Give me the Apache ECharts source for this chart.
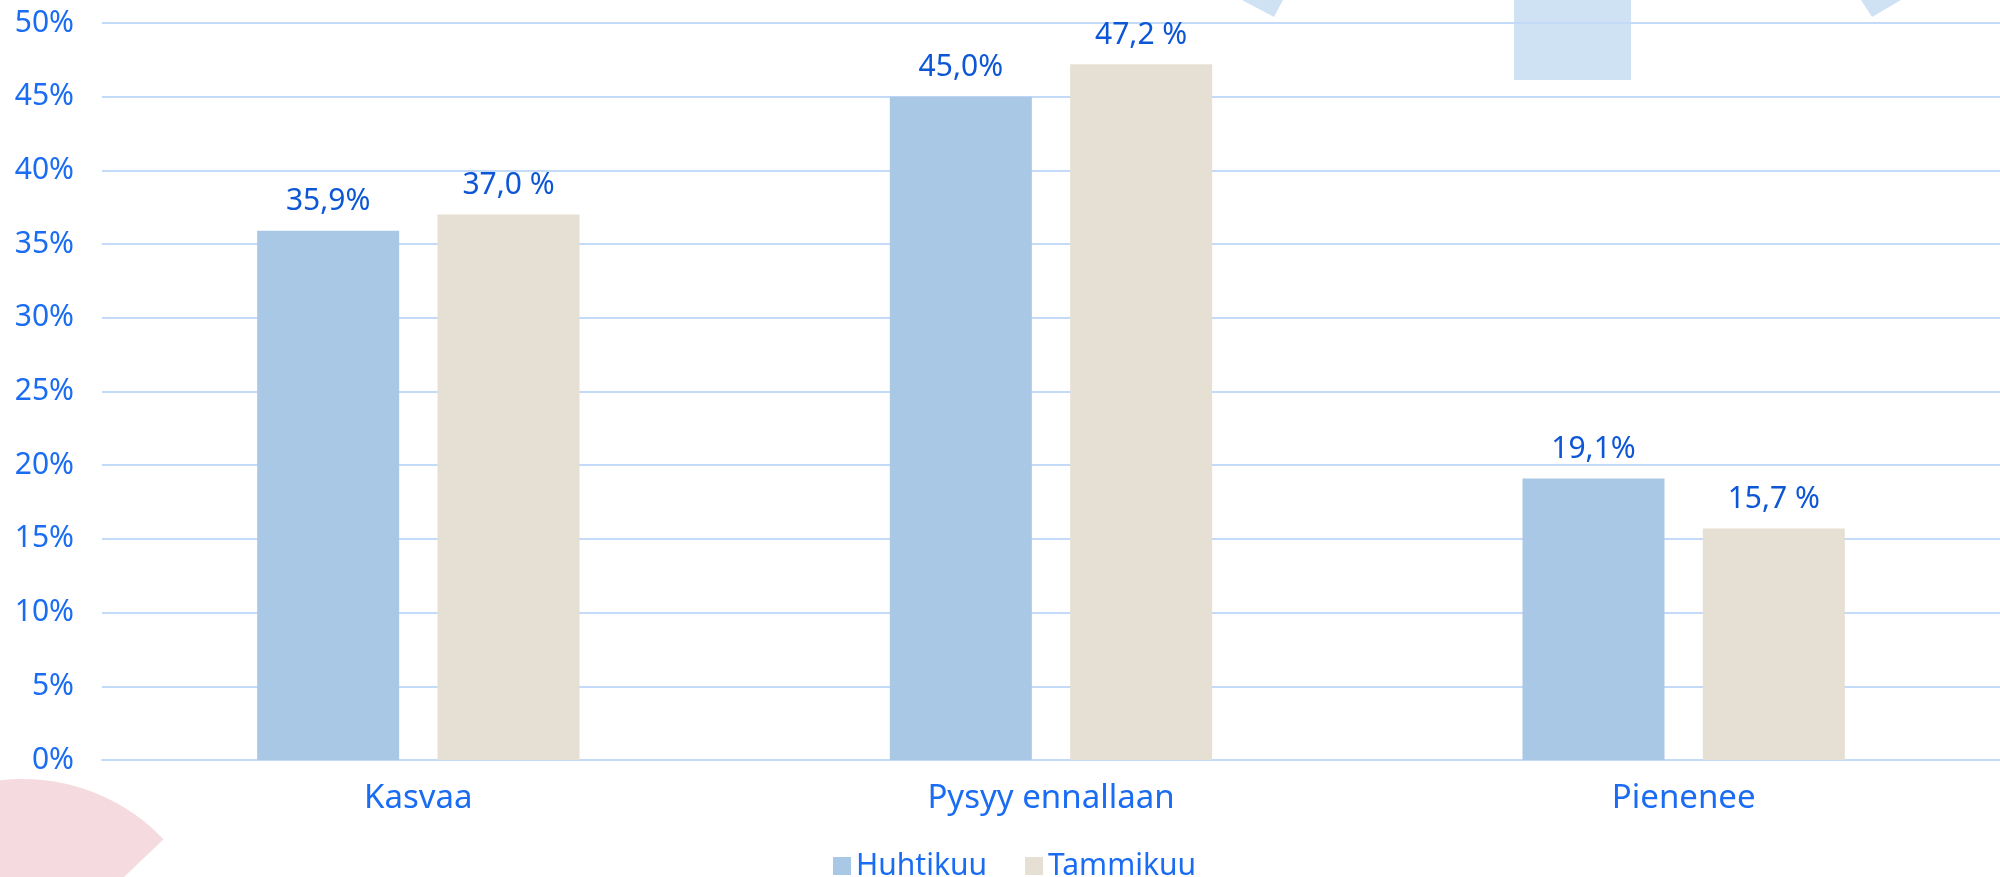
<!DOCTYPE html>
<html>
<head>
<meta charset="utf-8">
<script src="https://cdn.jsdelivr.net/npm/echarts@6/dist/echarts.min.js"></script>
<style>
  html, body { margin: 0; padding: 0; background: #fff; }
  #chart { width: 2000px; height: 877px; }
</style>
</head>
<body>
<div id="chart"></div>
<script>
// data
var categories = ['Kasvaa', 'Pysyy ennallaan', 'Pienenee'];
var huhtikuu = [35.9, 45.0, 19.1];
var tammikuu = [37.0, 47.2, 15.7];
var yTicks = [0, 5, 10, 15, 20, 25, 30, 35, 40, 45, 50];

var font = '"Noto Sans", sans-serif';
var tickBlue = '#1a6cf2';
var labelBlue = '#0d56d6';

function fi(v) { return v.toFixed(1).replace('.', ','); }

var chart = echarts.init(document.getElementById('chart'));
chart.setOption({
    animation: false,
    textStyle: { fontFamily: font },
    grid: { left: 102, right: 0, top: 23, bottom: 117, containLabel: false },
    // slide decorations behind the chart
    graphic: [
        { type: 'sector', z: -10, shape: { cx: 23, cy: 973, r: 194, startAngle: -Math.PI, endAngle: -0.76 },
          style: { fill: '#f5dbe0' } },
        { type: 'rect', z: -10, shape: { x: 1514, y: 0, width: 117, height: 80 }, style: { fill: '#cfe2f4' } },
        { type: 'polygon', z: -10, shape: { points: [[1242, 0], [1274, 17], [1283, 0]] }, style: { fill: '#cfe2f4' } },
        { type: 'polygon', z: -10, shape: { points: [[1861, 0], [1872, 17], [1901, 0]] }, style: { fill: '#cfe2f4' } }
    ],
    legend: {
        data: ['Huhtikuu', 'Tammikuu'],
        left: 828,
        top: 846,
        itemWidth: 18,
        itemHeight: 18,
        itemGap: 38,
        icon: 'rect',
        textStyle: { color: tickBlue, fontSize: 30, fontFamily: font }
    },
    xAxis: {
        type: 'category',
        data: categories,
        axisLine: { show: true, lineStyle: { color: '#c3daf8', width: 2 } },
        axisTick: { show: false },
        axisLabel: { color: tickBlue, fontSize: 33, margin: 22, fontFamily: font }
    },
    yAxis: {
        type: 'value',
        min: yTicks[0],
        max: yTicks[yTicks.length - 1],
        interval: 5,
        axisLine: { show: false },
        axisTick: { show: false },
        splitLine: { lineStyle: { color: '#c3daf8', width: 2 } },
        axisLabel: {
            color: tickBlue, fontSize: 30, margin: 28, fontFamily: font,
            formatter: function (v) { return v + '%'; }
        }
    },
    series: [
        {
            name: 'Huhtikuu',
            type: 'bar',
            data: huhtikuu,
            barWidth: 142,
            barGap: '27%',
            itemStyle: { color: '#a8c8e6' },
            label: {
                show: true, position: 'top', distance: 14,
                color: labelBlue, fontSize: 30, fontFamily: font,
                formatter: function (p) { return fi(p.value) + '%'; }
            }
        },
        {
            name: 'Tammikuu',
            type: 'bar',
            data: tammikuu,
            barWidth: 142,
            barGap: '27%',
            itemStyle: { color: '#e6e0d4' },
            label: {
                show: true, position: 'top', distance: 14,
                color: labelBlue, fontSize: 30, fontFamily: font,
                formatter: function (p) { return fi(p.value) + ' %'; }
            }
        }
    ]
});
</script>
</body>
</html>
